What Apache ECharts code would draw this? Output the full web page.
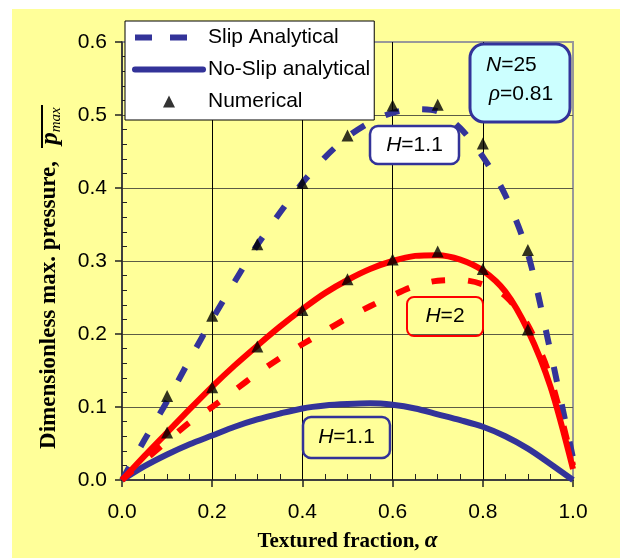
<!DOCTYPE html>
<html><head><meta charset="utf-8">
<script src="https://cdn.jsdelivr.net/npm/echarts@6/dist/echarts.min.js"></script>
<style>html,body{margin:0;padding:0;background:#fff}#c{width:620px;height:558px}</style>
</head><body><div id="c"></div>
<script>
// textured fraction alpha
const alpha = [0,0.05,0.1,0.15,0.2,0.25,0.3,0.35,0.4,0.45,0.5,0.55,0.6,0.65,0.7,0.75,0.8,0.85,0.9,0.95,1.0];
// Slip analytical, H=1.1
const slipH11 = [0,0.055,0.108,0.165,0.220,0.272,0.322,0.366,0.407,0.442,0.470,0.490,0.503,0.508,0.505,0.482,0.443,0.390,0.310,0.176,0.03];
// No-slip analytical, H=1.1
const noSlipH11 = [0,0.019,0.035,0.049,0.061,0.073,0.083,0.091,0.098,0.102,0.104,0.105,0.103,0.098,0.090,0.082,0.073,0.060,0.043,0.022,0];
// Slip analytical, H=2
const slipH2 = [0,0.027,0.053,0.079,0.100,0.123,0.146,0.167,0.186,0.204,0.222,0.238,0.253,0.266,0.273,0.274,0.268,0.252,0.212,0.140,0.02];
// No-slip analytical, H=2
const noSlipH2 = [0,0.033,0.065,0.097,0.128,0.157,0.184,0.210,0.234,0.256,0.274,0.289,0.300,0.307,0.308,0.302,0.287,0.258,0.205,0.128,0.015];
// Numerical
const numAlpha = [0.1,0.2,0.3,0.4,0.5,0.6,0.7,0.8,0.9];
const numH11 = [0.115,0.225,0.323,0.407,0.472,0.513,0.514,0.461,0.315];
const numH2 = [0.065,0.127,0.183,0.233,0.275,0.302,0.313,0.289,0.206];

const legendNames = ['Slip Analytical','No-Slip analytical','Numerical'];

function pairs(xs, ys){ return xs.map((x,i)=>[x, ys[i]]); }

const BLUE = '#333399', RED = '#ff0000', YEL = '#ffff99';
const SANS = '"Liberation Sans", Arial, sans-serif';
const SERIF = '"Liberation Serif", "Times New Roman", serif';
const TRI = 'path://M5,0L10,10L0,10Z';

const chart = echarts.init(document.getElementById('c'), null, {renderer:'canvas'});

function boxLabel(x, y, w, h, r, fill, stroke, lw, cx, cy, num){
  return {
    type:'group', z:20,
    children:[
      {type:'rect', shape:{x:x,y:y,width:w,height:h,r:r}, style:{fill:fill, stroke:stroke, lineWidth:lw}, z:20},
      {type:'text', x:cx, y:cy, z:21, style:{text:'{i|H}{n|=' + num + '}', align:'center', verticalAlign:'middle', textAlign:'center', textVerticalAlign:'middle',
        rich:{i:{fontFamily:SANS, fontStyle:'italic', fontSize:21, fill:'#000', color:'#000'}, n:{fontFamily:SANS, fontSize:21, fill:'#000', color:'#000'}}}}
    ]
  };
}

const option = {
  backgroundColor:'#fff',
  animation:false,
  grid:{left:122, right:47, top:42, bottom:78, show:true, borderColor:'#999', borderWidth:2, backgroundColor:'transparent'},
  legend:{
    data:[
      {name:legendNames[0], itemStyle:{opacity:0}, lineStyle:{color:BLUE, width:6, type:[17,18], cap:'butt'}},
      {name:legendNames[1], itemStyle:{opacity:0}, lineStyle:{color:BLUE, width:6, cap:'round'}},
      {name:legendNames[2], icon:TRI, itemStyle:{color:'#000'}}
    ],
    symbolKeepAspect:true,
    orient:'vertical', left:125, top:21, padding:[6,4,8,7], itemWidth:68, itemHeight:12, itemGap:11,
    backgroundColor:'#fff', borderColor:'#000', borderWidth:1, borderRadius:0,
    textStyle:{fontFamily:SANS, fontSize:21, color:'#000'}, selectedMode:false, z:30
  },
  xAxis:{
    type:'value', min:0, max:1, interval:0.2,
    axisLine:{lineStyle:{color:'#222', width:1.5}},
    axisTick:{length:7, lineStyle:{color:'#222', width:1.5}},
    minorTick:{show:true, splitNumber:4, length:-6, lineStyle:{color:'#222', width:1}},
    splitLine:{show:true, showMinLine:false, showMaxLine:false, lineStyle:{color:'#000', width:1}},
    axisLabel:{formatter:v=>v.toFixed(1), fontFamily:SANS, fontSize:21, color:'#000', margin:22},
    name:'{t|Textured fraction, }{a|α}', nameLocation:'middle', nameGap:50,
    nameTextStyle:{rich:{t:{fontFamily:SERIF, fontWeight:'bold', fontSize:21, color:'#000'}, a:{fontFamily:SERIF, fontStyle:'italic', fontWeight:'bold', fontSize:23, color:'#000'}}}
  },
  yAxis:{
    type:'value', min:0, max:0.6, interval:0.1,
    axisLine:{lineStyle:{color:'#222', width:1.5}},
    axisTick:{length:7, lineStyle:{color:'#222', width:1.5}},
    minorTick:{show:true, splitNumber:5, length:-5, lineStyle:{color:'#222', width:1}},
    splitLine:{show:true, showMinLine:false, showMaxLine:false, lineStyle:{color:'#5c5c45', width:1}},
    axisLabel:{formatter:v=>v.toFixed(1), fontFamily:SANS, fontSize:21, color:'#000', margin:15}
  },
  graphic:[
    {type:'rect', shape:{x:12,y:9,width:608,height:549}, style:{fill:YEL}, z:-100, silent:true},
    {type:'text', x:49, y:305, rotation:Math.PI/2, z:5, style:{text:'Dimensionless max. pressure,', font:'bold 23px ' + SERIF, fill:'#000', align:'center', verticalAlign:'middle', textAlign:'center', textVerticalAlign:'middle'}},
    {type:'text', x:51, y:126, rotation:Math.PI/2, z:5, style:{text:'{p|p}{s|max}', align:'center', verticalAlign:'middle', textAlign:'center', textVerticalAlign:'middle',
      rich:{p:{fontFamily:SERIF, fontStyle:'italic', fontWeight:'bold', fontSize:25, lineHeight:26, fill:'#000'}, s:{fontFamily:SERIF, fontStyle:'italic', fontSize:15, lineHeight:15, verticalAlign:'bottom', fill:'#000'}}}},
    {type:'line', shape:{x1:42, y1:105, x2:42, y2:148}, style:{stroke:'#000', lineWidth:2}, z:5},
    boxLabel(370,126,89,38,8,'#fff',BLUE,2.5,414.5,145,'1.1'),
    boxLabel(303,417,87,41,8,'rgba(0,0,0,0)',BLUE,2.5,346.5,437.5,'1.1'),
    boxLabel(407,297,76,39,7,'rgba(0,0,0,0)',RED,2,445,316.5,'2'),
    {type:'group', z:20, children:[
      {type:'rect', shape:{x:470,y:44,width:100,height:78,r:14}, style:{fill:'#ccffff', stroke:BLUE, lineWidth:3}, z:20},
      {type:'text', x:486, y:65, z:21, style:{text:'{i|N}{n|=25}', verticalAlign:'middle', textVerticalAlign:'middle',
        rich:{i:{fontFamily:SANS, fontStyle:'italic', fontSize:21, fill:'#000'}, n:{fontFamily:SANS, fontSize:21, fill:'#000'}}}},
      {type:'text', x:489, y:94, z:21, style:{text:'{i|ρ}{n|=0.81}', verticalAlign:'middle', textVerticalAlign:'middle',
        rich:{i:{fontFamily:SERIF, fontStyle:'italic', fontSize:23, fill:'#000'}, n:{fontFamily:SANS, fontSize:21, fill:'#000'}}}}
    ]}
  ],
  series:[
    {name:legendNames[0], type:'line', data:pairs(alpha, slipH11), smooth:0.3, symbol:'none', z:3,
      lineStyle:{color:BLUE, width:6, type:[15,23], cap:'butt'}, itemStyle:{color:BLUE}},
    {name:legendNames[1], type:'line', data:pairs(alpha, noSlipH11), smooth:0.3, symbol:'none', z:3,
      lineStyle:{color:BLUE, width:6}, itemStyle:{color:BLUE}},
    {name:legendNames[0], type:'line', data:pairs(alpha, slipH2), smooth:0.3, symbol:'none', z:3,
      lineStyle:{color:RED, width:6, type:[14,23], cap:'butt'}, itemStyle:{color:RED}},
    {name:legendNames[1], type:'line', data:pairs(alpha, noSlipH2), smooth:0.3, symbol:'none', z:4,
      lineStyle:{color:RED, width:6}, itemStyle:{color:RED}},
    {name:legendNames[2], type:'scatter', data:pairs(numAlpha, numH11), symbol:'triangle', symbolSize:12, z:5, itemStyle:{color:'#000'}},
    {name:legendNames[2], type:'scatter', data:pairs(numAlpha, numH2), symbol:'triangle', symbolSize:12, z:5, itemStyle:{color:'#000'}}
  ]
};
chart.setOption(option);
</script></body></html>
